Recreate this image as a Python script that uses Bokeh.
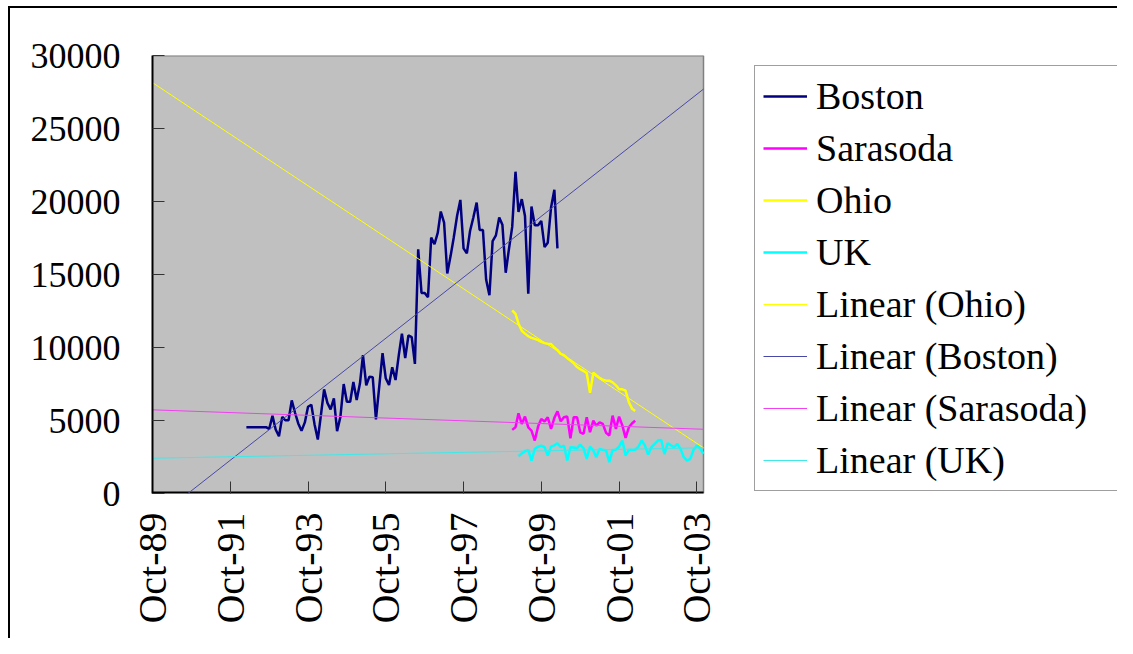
import pandas as pd
from bokeh.plotting import figure
from bokeh.models import (Range1d, FixedTicker, DatetimeTickFormatter, Legend,
                          LegendItem, ColumnDataSource)
from bokeh.embed import file_html
from bokeh.resources import INLINE

# ---------------- data ----------------
boston_start = "1992-03-01"
boston = [4540, 4540, 4540, 4540, 4540, 4540, 4540,
          4420, 5320, 4380, 3920, 5250, 5020, 5020, 6380, 5530, 4800, 4290,
          4870, 5940, 6080, 4750, 3700, 5480, 7130, 6210, 5760, 6516,
          4266, 5250, 7500, 6282, 6282, 7638, 6400, 7548, 9475, 7411, 8002,
          7960, 5071, 7314, 9612, 7892, 7431, 8649, 7775, 9495, 10940, 9268,
          10823, 10713, 8876,
          16720, 13740, 13740, 13440, 17530, 17070, 17870, 19315, 18560,
          15070, 16260, 17530, 19010, 20110, 16790, 16450, 17980, 18900,
          19930, 18050, 18050, 14660, 13580, 17290, 17680, 18900, 18400,
          15120, 16720, 18260, 22040, 19290, 20160, 19010, 13690, 19660,
          18370, 18370, 18670, 16880, 17180, 19590, 20800, 16790]

ohio_start = "1999-01-01"
ohio = [12545, 12300, 11650, 11150, 10950, 10770, 10660, 10590, 10500, 10390,
        10300, 10253, 10240, 10000, 9820, 9560, 9470, 9268, 9103, 8925,
        8660, 8520, 8390, 8250, 6900, 8270, 8100, 7920, 7790, 7730,
        7727, 7610, 7410, 7135, 7135, 7040, 6250, 5800, 5650]

sarasoda_start = "1999-01-01"
sarasoda = [4358, 4536, 5493, 4768, 5268, 4536, 4310, 3626, 4583, 5110,
            4926, 5220, 4426, 5179, 5630, 4946, 5220, 5268, 3783, 5220,
            5220, 4194, 4084, 5220, 4194, 4994, 4652, 4878, 4768, 4152,
            3968, 5336, 4426, 5268, 4652, 3810, 4536, 4809, 4994]

uk_start = "1999-03-01"
uk = [2554, 2750, 2896, 2987, 2257, 3056, 3200, 3284, 3170, 2600,
      3215, 3300, 3443, 3170, 3284, 2257, 3170, 3150, 3101, 3352,
      3100, 2372, 3215, 2942, 2486, 3056, 2990, 2950, 2141, 2987,
      3000, 3200, 3626, 2600, 2987, 2987, 3000, 3200, 3626, 3284,
      2668, 3170, 3400, 3626, 3670, 2700, 3443, 3300, 3170, 3398,
      3056, 2486, 2257, 2372, 3000, 3284, 3100, 2714]

trend_dates = ["1989-10-01", "2003-12-03"]
trend_ohio = [28140, 3130]
trend_boston = [-1900, 27700]
trend_sarasoda = [5730, 4400]
trend_uk = [2415, 3130]

x_ticks = ["1989-10-01", "1991-10-01", "1993-10-01", "1995-10-01",
           "1997-10-01", "1999-10-01", "2001-10-01", "2003-10-01"]
y_ticks = [0, 5000, 10000, 15000, 20000, 25000, 30000]
x_limits = ["1989-10-01", "2003-12-03"]
y_limits = [0, 30000]

# ---------------- layout (pixels) ----------------
W, H = 1117, 638          # fits 1133x654 with the page's 8px margin
PLOT_L, PLOT_R, PLOT_T, PLOT_B = 152, 703, 55, 493   # grey plot area
FONT = "Liberation Serif"


def ms(d):
    return pd.Timestamp(d).timestamp() * 1000.0


def monthly(start, vals):
    return ColumnDataSource(dict(x=pd.date_range(start, periods=len(vals), freq="MS"), y=vals))


x0, x1 = ms(x_limits[0]), ms(x_limits[1])
# the frame is widened to the right edge so that the legend can sit in it;
# the grey plot area itself still ends at x_limits[1]
x_frame_end = x0 + (x1 - x0) * (W - PLOT_L) / (PLOT_R - PLOT_L)

p = figure(width=W, height=H, x_axis_type="datetime",
           x_range=Range1d(x0, x_frame_end),
           y_range=Range1d(y_limits[0], y_limits[1]),
           output_backend="svg", toolbar_location=None, title=None,
           min_border_left=PLOT_L, min_border_right=0,
           min_border_top=PLOT_T, min_border_bottom=H - PLOT_B)

p.background_fill_color = "white"
p.border_fill_alpha = 0
p.outline_line_color = None
p.xgrid.visible = False
p.ygrid.visible = False
# outer chart border: left and top edges only (the others fall outside the window)
p.styles = {"background": ("linear-gradient(#000,#000) 8px 6px / 2px 100% no-repeat, "
                           "linear-gradient(#000,#000) 8px 6px / 100% 2px no-repeat, #fff")}

# grey plot area and its edges
p.quad(left=[x0], right=[x1], bottom=[y_limits[0]], top=[y_limits[1]],
       fill_color="#C0C0C0", line_color=None)
p.segment(x0=[x0], y0=[y_limits[1]], x1=[x1], y1=[y_limits[1]], line_color="#808080", line_width=2)
p.segment(x0=[x1], y0=[y_limits[0]], x1=[x1], y1=[y_limits[1]], line_color="#808080", line_width=1.5)

# axes
p.xaxis.ticker = FixedTicker(ticks=[ms(t) for t in x_ticks])
p.xaxis.formatter = DatetimeTickFormatter(
    years="%b-%y", months="%b-%y", days="%b-%y", hours="%b-%y",
    minutes="%b-%y", seconds="%b-%y", minsec="%b-%y", hourmin="%b-%y",
    milliseconds="%b-%y", microseconds="%b-%y")
p.xaxis.major_label_orientation = 3.14159265 / 2
p.yaxis.ticker = FixedTicker(ticks=y_ticks)
for ax in (p.xaxis, p.yaxis):
    ax.axis_line_color = "black"
    ax.axis_line_width = 2
    ax.major_tick_in = 12
    ax.major_tick_out = 0
    ax.major_tick_line_color = "#333333"
    ax.major_tick_line_width = 1
    ax.minor_tick_line_color = None
    ax.major_label_text_font = FONT
    ax.major_label_text_color = "black"
p.yaxis.major_label_text_font_size = "36px"
p.xaxis.major_label_text_font_size = "40px"
p.xaxis.axis_line_color = None
p.yaxis.major_label_standoff = 32
p.xaxis.major_label_standoff = 19
# x axis line, only under the plot area
p.segment(x0=[x0], y0=[y_limits[0]], x1=[x1], y1=[y_limits[0]], line_color="black", line_width=4)

# data series
r_boston = p.line("x", "y", source=monthly(boston_start, boston), line_color="#000080", line_width=2.5)
r_sar = p.line("x", "y", source=monthly(sarasoda_start, sarasoda), line_color="#FF00FF", line_width=2.5)
r_ohio = p.line("x", "y", source=monthly(ohio_start, ohio), line_color="#FFFF00", line_width=2.5)
r_uk = p.line("x", "y", source=monthly(uk_start, uk), line_color="#00FFFF", line_width=2.5)

# trend lines
td = pd.to_datetime(trend_dates)
t_ohio = p.line(td, trend_ohio, line_color="#FFFF00", line_width=1)
t_boston = p.line(td, trend_boston, line_color="#4848A8", line_width=1)
t_sar = p.line(td, trend_sarasoda, line_color="#F040F0", line_width=1)
t_uk = p.line(td, trend_uk, line_color="#40E8E8", line_width=1)

legend = Legend(items=[
    LegendItem(label="Boston", renderers=[r_boston]),
    LegendItem(label="Sarasoda", renderers=[r_sar]),
    LegendItem(label="Ohio", renderers=[r_ohio]),
    LegendItem(label="UK", renderers=[r_uk]),
    LegendItem(label="Linear (Ohio)", renderers=[t_ohio]),
    LegendItem(label="Linear (Boston)", renderers=[t_boston]),
    LegendItem(label="Linear (Sarasoda)", renderers=[t_sar]),
    LegendItem(label="Linear (UK)", renderers=[t_uk]),
], location=(754 - PLOT_L, 2))
legend.border_line_color = "#404040"
legend.border_line_width = 1
legend.background_fill_color = "white"
legend.background_fill_alpha = 1.0
legend.label_text_font = FONT
legend.label_text_font_size = "38px"
legend.label_text_color = "black"
legend.glyph_width = 44
legend.glyph_height = 44
legend.label_height = 44
legend.label_width = 330
legend.label_standoff = 9
legend.spacing = 8
legend.padding = 8
legend.margin = 0
p.add_layout(legend)

open("out.html", "w").write(file_html(p, INLINE))
